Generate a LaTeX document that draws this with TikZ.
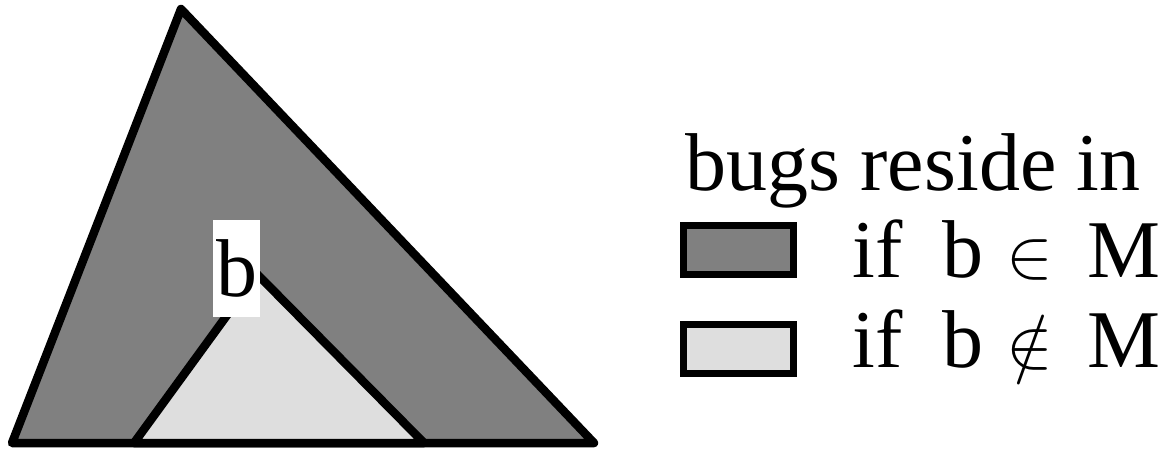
\documentclass[tikz,border=0pt]{standalone}
\usepackage{fontspec}
\usepackage{graphicx}
\setmainfont{Liberation Serif}
\definecolor{darkfill}{gray}{0.5}
\definecolor{lightfill}{gray}{0.87}
\begin{document}
\begin{tikzpicture}[x=1pt,y=-1pt,
  edge/.style={draw=black,line width=8.5pt,line join=round},
  legbox/.style={draw=black,line width=7pt,minimum width=110pt,minimum height=49pt,inner sep=0pt},
  big/.style={font=\fontsize{82}{96}\selectfont,inner sep=0pt,anchor=base west}]
\useasboundingbox (0,0) rectangle (1168,453);
% triangles
\coordinate (A) at (181,9);
\coordinate (L) at (12,443);
\coordinate (R) at (594,443);
\coordinate (a) at (257,274);
\coordinate (l) at (134,443);
\coordinate (r) at (424,443);
\path[edge,fill=darkfill] (A) -- (R) -- (L) -- cycle;
\path[edge,fill=lightfill] (a) -- (r) -- (l) -- cycle;
\draw[edge] (L) -- (R);
\node[fill=white,inner sep=0pt,minimum width=47pt,minimum height=97pt,
  font=\fontsize{82}{96}\selectfont] (blab) at (236.5,268.5) {b};
% legend
\node[big] (title) at (685,190) {bugs reside in};
\node[legbox,fill=darkfill] (box1) at (738.5,250) {};
\node[legbox,fill=lightfill] (box2) at (738.5,348.5) {};
\node[big] (if1) at (852,277) {if};
\node[big] (b1) at (942,277) {b};
\node[anchor=base west,inner sep=0pt] (in1) at (1006,277) {\scalebox{7}{$\in$}};
\node[big] (M1) at (1087,277) {M};
\node[big] (if2) at (852,367) {if};
\node[big] (b2) at (942,367) {b};
\node[anchor=base west,inner sep=0pt] (in2) at (1006,367) {\scalebox{7}{$\notin$}};
\node[big] (M2) at (1087,367) {M};
\end{tikzpicture}
\end{document}
